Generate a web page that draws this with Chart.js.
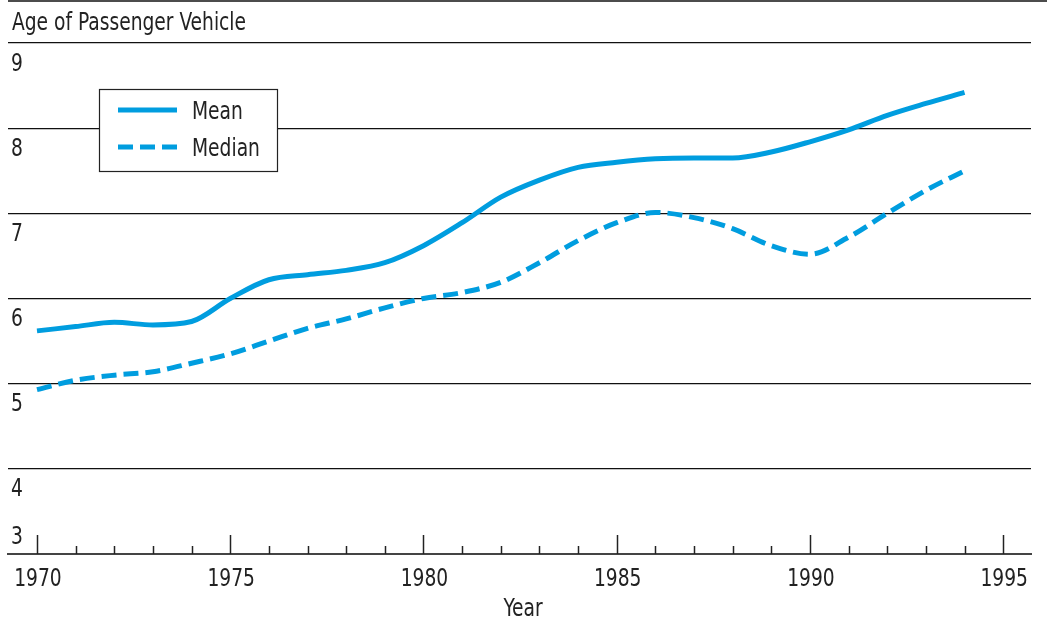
<!DOCTYPE html>
<html>
<head>
<meta charset="utf-8">
<script src="https://cdn.jsdelivr.net/npm/chart.js@4"></script>
<style>
  html, body { margin: 0; padding: 0; background: #fff; }
  #wrap { width: 1047px; height: 622px; }
</style>
</head>
<body>
<div id="wrap"><canvas id="chart"></canvas></div>
<script>
// data
var years = [1970, 1971, 1972, 1973, 1974, 1975, 1976, 1977, 1978, 1979, 1980, 1981, 1982,
             1983, 1984, 1985, 1986, 1987, 1988, 1989, 1990, 1991, 1992, 1993, 1994];
var meanAge = [5.62, 5.67, 5.72, 5.69, 5.73, 6.0, 6.22, 6.28, 6.33, 6.42, 6.62, 6.89, 7.19,
               7.39, 7.54, 7.6, 7.64, 7.65, 7.65, 7.72, 7.84, 7.98, 8.15, 8.29, 8.42];
var medianAge = [4.93, 5.04, 5.1, 5.14, 5.24, 5.35, 5.5, 5.65, 5.76, 5.89, 6.0, 6.07, 6.19,
                 6.42, 6.68, 6.89, 7.01, 6.95, 6.82, 6.62, 6.52, 6.72, 7.0, 7.27, 7.5];
var yLabels = [3, 4, 5, 6, 7, 8, 9];
var xLabels = [1970, 1975, 1980, 1985, 1990, 1995];

var blue = '#009ddf';
var font = '"DejaVu Sans Condensed", "Liberation Sans Narrow", sans-serif';
var squeeze = 0.83; // condensed look of the original type

function pts(vals) {
    return years.map(function (y, i) { return { x: y, y: vals[i] }; });
}

// narrow text: draw with a horizontal squeeze
function txt(ctx, s, x, y, align) {
    ctx.save();
    ctx.translate(x, y);
    ctx.scale(squeeze, 1);
    ctx.textAlign = align || 'left';
    ctx.fillText(s, 0, 0);
    ctx.restore();
}

// title, labels, year ticks and the legend box
var extras = {
    id: 'extras',
    afterDatasetsDraw: function (chart) {
        var ctx = chart.ctx;
        var xs = chart.scales.x, ys = chart.scales.y;
        var area = chart.chartArea;
        ctx.save();
        // top rule
        ctx.strokeStyle = '#111';
        ctx.lineWidth = 1.5;
        ctx.beginPath();
        ctx.moveTo(area.left, 1);
        ctx.lineTo(1047, 1);
        ctx.stroke();

        ctx.fillStyle = '#222';
        ctx.font = '25px ' + font;
        ctx.textBaseline = 'middle';
        txt(ctx, 'Age of Passenger Vehicle', 12, 23);

        // y labels sit under their grid line
        yLabels.forEach(function (v) {
            var py = ys.getPixelForValue(v);
            txt(ctx, String(v), 11, v === 3 ? py - 17 : py + 21);
        });

        // x labels and axis title
        xLabels.forEach(function (v) {
            txt(ctx, String(v), xs.getPixelForValue(v) + 1, area.bottom + 25, 'center');
        });
        txt(ctx, 'Year', 523, 609, 'center');

        // year ticks pointing up from the axis
        ctx.strokeStyle = '#222';
        ctx.lineWidth = 1.5;
        for (var yr = 1970; yr <= 1995; yr++) {
            var px = Math.round(xs.getPixelForValue(yr)) + 0.5;
            var len = yr % 5 === 0 ? 19 : 8;
            ctx.beginPath();
            ctx.moveTo(px, area.bottom);
            ctx.lineTo(px, area.bottom - len);
            ctx.stroke();
        }

        // legend
        ctx.fillStyle = '#fff';
        ctx.fillRect(99, 89, 179, 82);
        ctx.strokeStyle = '#222';
        ctx.lineWidth = 1.2;
        ctx.strokeRect(99.5, 89.5, 178, 82);
        chart.data.datasets.forEach(function (ds, i) {
            var ly = 110 + i * 37;
            ctx.strokeStyle = ds.borderColor;
            ctx.lineWidth = ds.borderWidth;
            ctx.setLineDash(ds.borderDash || []);
            ctx.beginPath();
            ctx.moveTo(118, ly);
            ctx.lineTo(177, ly);
            ctx.stroke();
            ctx.setLineDash([]);
            ctx.fillStyle = '#222';
            txt(ctx, ds.label, 192, ly + 2);
        });
        ctx.restore();
    }
};

const chrt = document.getElementById('chart');
const ageChart = new Chart(chrt, {
    type: 'line',
    data: {
        datasets: [
            {
                label: 'Mean',
                data: pts(meanAge),
                borderColor: blue,
                borderWidth: 5,
                pointRadius: 0,
                cubicInterpolationMode: 'monotone',
                fill: false
            },
            {
                label: 'Median',
                data: pts(medianAge),
                borderColor: blue,
                borderWidth: 5,
                borderDash: [15, 7],
                borderCapStyle: 'butt',
                pointRadius: 0,
                cubicInterpolationMode: 'monotone',
                fill: false
            }
        ]
    },
    options: {
        responsive: true,
        maintainAspectRatio: false,
        animation: false,
        layout: { padding: { left: 8, right: 16, top: 43, bottom: 68 } },
        plugins: {
            legend: { display: false },
            tooltip: { enabled: false }
        },
        scales: {
            x: {
                type: 'linear',
                min: 1969.25,
                max: 1995.72,
                afterBuildTicks: function (scale) {
                    scale.ticks = xLabels.map(function (v) { return { value: v }; });
                },
                grid: { display: false, drawTicks: false },
                border: { display: true, color: '#444', width: 2 },
                ticks: { display: false }
            },
            y: {
                min: 3,
                max: 9,
                afterBuildTicks: function (scale) {
                    scale.ticks = yLabels.map(function (v) { return { value: v }; });
                },
                grid: { color: '#111', lineWidth: 1.3, drawTicks: false },
                border: { display: false },
                ticks: { display: false }
            }
        }
    },
    plugins: [extras]
});
</script>
</body>
</html>
